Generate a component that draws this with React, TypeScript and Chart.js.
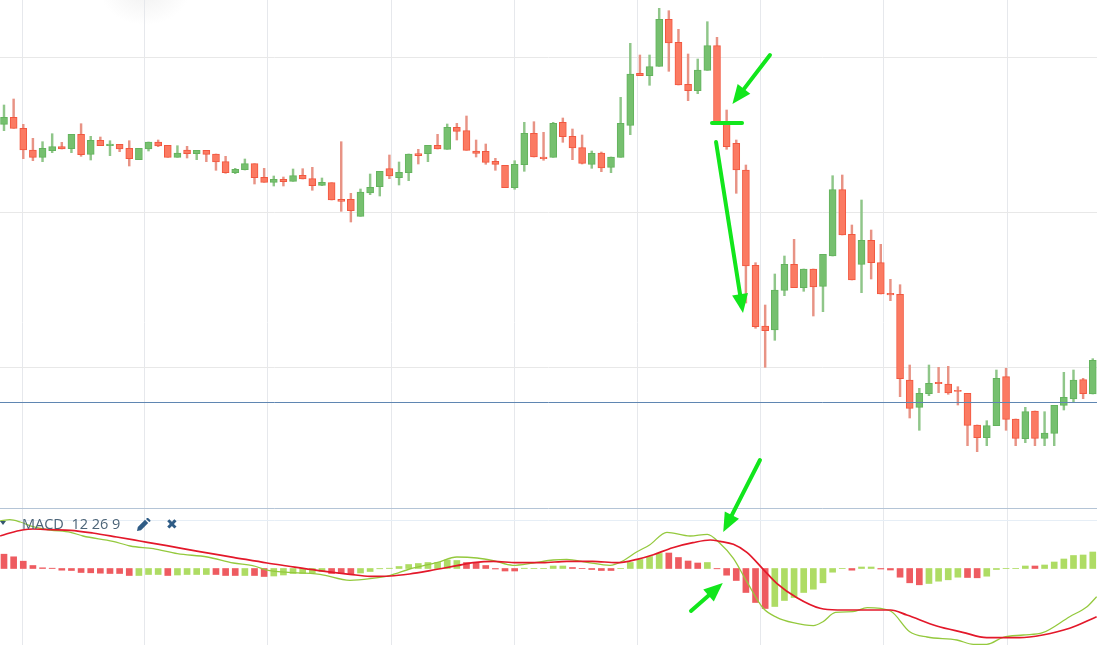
import React, { useEffect, useRef } from "react";
import { Chart, registerables } from "chart.js";

Chart.register(...registerables);

const opens = [52.07,52.77,51.67,49.5,48.77,49.43,49.83,49.63,51.07,49.07,50.47,49.93,50.07,49.67,48.53,49.6,50.3,49.97,48.77,49.5,49.13,49.47,49.1,48.33,47.23,47.53,48.13,46.77,46.27,46.57,46.37,46.97,46.63,45.97,46.23,44.57,44.57,42.87,45.2,45.83,47.63,46.73,47.23,49.13,49.13,49.97,49.57,51.77,51.43,49.4,49.37,48.37,47.97,45.73,48.03,51.17,48.8,48.77,52.27,50.87,49.73,48.07,49.2,47.77,48.77,51.97,57.17,56.93,57.87,62.57,60.27,56.07,55.43,57.47,59.93,52.17,50.17,47.5,37.97,31.9,31.5,35.47,38.07,35.73,37.6,35.87,38.9,45.53,41.07,38.07,40.47,38.23,35.17,35.07,26.5,23.77,25.13,26.27,26.1,25.47,25.17,22,20.73,21.93,26.83,22.6,20.63,23.4,20.67,21.17,23.97,24.6,26.53,25.1];
const closes = [52.77,51.67,49.5,48.77,49.67,49.83,49.6,51.07,49.03,50.47,49.93,50.1,49.6,48.63,49.67,50.3,49.9,48.77,49.2,49.13,49.47,49.07,48.3,47.23,47.57,48.13,46.73,46.27,46.57,46.33,46.93,46.6,45.93,46.27,44.5,44.37,43.43,45.3,45.77,47.37,46.9,47.27,49.1,48.93,49.97,49.6,51.77,51.37,49.47,49.17,48.27,48.07,45.73,48.07,51.17,48.8,48.63,52.17,50.83,49.7,48.17,49.17,47.7,48.8,52.17,57.1,56.93,57.83,62.57,60.2,56,55.43,57.5,59.93,52.33,49.83,47.5,37.9,31.83,31.43,35.5,38.07,35.73,37.6,35.8,39.07,45.53,41,36.5,40.47,38.23,35.1,35,26.63,23.67,25.17,26.17,26.13,25.2,25.37,21.97,20.73,21.93,26.67,22.57,20.67,23.33,20.67,21.2,23.97,24.77,26.5,25.13,28.47];
const highs = [54,54.6,52.07,50.67,50.33,51.13,50.27,51.07,52.13,50.87,50.8,50.43,50.07,50.43,49.67,50.3,50.5,49.97,49.93,49.87,49.47,49.47,49.1,48.87,47.67,48.6,48.13,47.67,46.9,46.8,47.6,47.63,47.77,46.7,46.23,50.33,45.17,45.6,47.1,47.37,49,48.3,49.1,49.57,49.97,51.07,52.1,52.17,52.9,50.5,50.1,48.67,47.97,48.43,52.27,52.33,51.27,52.27,52.7,51.6,51,49.4,49.3,48.8,54.77,60.17,59,59,63.67,63.43,61.57,59.1,58.6,62.33,60.77,53.5,50.5,48,38.23,34,37.1,38.9,40.57,37.6,37.6,39.07,46.93,47,42,44.5,41.5,40.07,36.57,36.03,28,25.67,28,27.77,27.87,25.83,25.17,22,22.43,27.5,27.67,22.6,23.77,23.4,23.33,23.97,27.27,27.5,26.67,28.63];
const lows = [51.43,51.67,48.63,48.43,48.33,49.23,49.6,49.23,48.87,48.5,49.93,48.93,49.33,47.9,48.53,49.4,49.83,48.77,48.77,48.7,48.53,48.33,47.47,47.17,47.13,47.5,46.1,46.27,45.9,45.9,46.37,46.6,45.47,45.93,44.5,43.37,42.3,42.87,45.03,44.9,46.63,46,46.43,48.1,48.33,49.6,49.57,50.5,49.47,48.8,48.07,47.47,45.73,45.57,47.37,48.8,48.47,48.77,50.27,48.53,48.1,47.67,47.33,47.23,48.77,51.03,56.93,55.97,57.87,57.37,56,54.43,55.13,57.47,52.33,49.57,45.17,34.2,31.67,27.77,30.47,34.93,35.73,35.37,32.9,33.33,38.9,41,36.5,35.23,36.6,35.1,34.43,24.83,22.7,21.47,24.93,25.23,25.07,24,19.93,19.33,19.93,21.93,21.47,19.93,20.23,19.93,19.93,19.93,23.5,24.3,24.63,25.1];

const macdHist = [1.43,1.17,0.73,0.3,0.07,0.03,-0.17,-0.2,-0.4,-0.43,-0.47,-0.5,-0.5,-0.7,-0.7,-0.6,-0.6,-0.7,-0.65,-0.6,-0.6,-0.6,-0.6,-0.7,-0.7,-0.7,-0.7,-0.8,-0.75,-0.65,-0.5,-0.5,-0.45,-0.3,-0.5,-0.5,-0.6,-0.45,-0.3,-0.03,0.03,0.2,0.4,0.5,0.6,0.6,0.85,0.8,0.6,0.6,0.3,-0.05,-0.25,-0.25,0.03,0.02,0.02,0.25,0.25,0.1,0.02,-0.1,-0.2,-0.2,0.02,0.6,0.9,1.2,1.5,1.55,1.1,0.75,0.55,0.6,-0.03,-0.67,-1.2,-2.4,-3.4,-4,-3.8,-3.2,-2.9,-2.4,-2.07,-1.43,-0.37,-0.02,-0.17,0.15,0.15,-0.05,-0.15,-0.87,-1.43,-1.63,-1.5,-1.27,-1.13,-0.87,-0.9,-0.93,-0.77,-0.1,0.02,0.02,0.25,0.25,0.35,0.65,0.95,1.3,1.35,1.65];
const macdHistRising = [
  "rrrrrrrrrrrrrr", "ggg", "r", "gggg", "rrr", "g", "rr", "gggggg", "rrr", "ggggggggggg", "rrrrrr", "ggggg", "rrrrr",
  "ggggg", "rrrr", "g", "rrrrrr", "gggggggg", "r", "gg", "rrrrr", "gggg", "rr", "ggggg", "r", "gggggg",
].join("").split("");

const signalIdx = [-0.4,0.6,1.9,3,4.8,6.9,9.2,11.7,14.1,16.9,20.3,23.8,27.3,29.4,32.5,35.9,38,40.1,42.1,44.2,47,48.7,50.8,53.2,55.9,58.4,61.1,63.6,65.7,67.4,69.4,71.5,73.3,74.3,75.7,77.1,78.8,80.2,82.3,84.7,86.5,92,93.7,96.8,99.5,102,105.4,107.8,110.6,113.4];
const signalVal = [3.25,3.55,3.85,3.95,3.88,3.82,3.55,3.15,2.75,2.28,1.68,1.12,0.55,0.25,-0.18,-0.58,-0.78,-0.75,-0.55,-0.22,0.28,0.58,0.72,0.58,0.58,0.72,0.72,0.58,0.92,1.38,2.08,2.58,2.85,2.72,2.42,1.62,-0.08,-1.48,-2.92,-3.98,-4.15,-4.15,-4.65,-5.75,-6.38,-6.92,-6.92,-6.65,-5.98,-4.82];
const macdIdx = [-0.4,0.6,1.7,3,4.8,6.9,8.2,11.3,13.1,15.5,18,21.1,23.8,25.8,27.6,32.8,35.9,38,40.1,42.1,45,47,49.1,50.8,52.8,54.9,57,58.4,60.5,62.9,64.2,65.7,67,68.8,71.2,73,74.3,75.7,77.1,78.8,80.2,81.9,84,85,86.3,88.1,89.6,92,94,95.8,98.9,100.6,102,103.7,105.8,107.8,110.6,112.4,113.4];
const macdVal = [4.75,4.88,4.65,4.18,3.85,3.62,3.25,2.72,2.25,1.98,1.48,1.15,0.55,0.28,-0.22,-0.58,-1.18,-1.02,-0.68,-0.05,0.62,1.15,1.05,0.78,0.32,0.55,0.85,0.92,0.62,0.32,0.75,1.68,2.35,3.62,3.25,3.42,2.52,1.02,-1.32,-3.98,-4.88,-5.42,-5.72,-5.32,-4.38,-4.32,-3.92,-4.25,-6.32,-6.85,-7.15,-7.58,-7.58,-6.88,-6.65,-6.42,-4.82,-3.82,-2.82];

const timeGridTicks = [1.87,14.63,27.4,40.17,53,65.8,78.55,91.3,104.1];
const priceGridTicks = [27.8,43.3,58.8];
const priceLine = 24.25;
const paneBorder = 13.65;
const paneTop = 12.45;

// [fromIndex, fromPrice, toIndex, toPrice, hasHead]
const arrows: [number, number, number, number, boolean][] = [
  [79.5, 59, 75.6, 54.1, true],
  [73.48, 52.2, 76.6, 52.2, false],
  [73.9, 50.3, 76.7, 33.2, true],
  [78.46, 18.5, 74.65, 11.3, true],
  [71.3, 3.4, 74.6, 6.2, true],
];

const X_MIN = -0.415;
const X_MAX = 113.44;

const arrowPlugin = {
  id: "arrowPlugin",
  afterDatasetsDraw(chart: any) {
    const { ctx, scales } = chart;
    ctx.save();
    ctx.strokeStyle = "#12e61c";
    ctx.fillStyle = "#12e61c";
    ctx.lineCap = "round";
    for (const [a, b, c, d, head] of arrows) {
      const x0 = scales.x.getPixelForValue(a);
      const y0 = scales.y.getPixelForValue(b);
      const x1 = scales.x.getPixelForValue(c);
      const y1 = scales.y.getPixelForValue(d);
      const ang = Math.atan2(y1 - y0, x1 - x0);
      const len = head ? 15 : 0;
      ctx.lineWidth = 4;
      ctx.beginPath();
      ctx.moveTo(x0, y0);
      ctx.lineTo(x1 - Math.cos(ang) * len, y1 - Math.sin(ang) * len);
      ctx.stroke();
      if (head) {
        const bx = x1 - Math.cos(ang) * 19;
        const by = y1 - Math.sin(ang) * 19;
        const w = 8;
        ctx.beginPath();
        ctx.moveTo(x1, y1);
        ctx.lineTo(bx - Math.sin(ang) * w, by + Math.cos(ang) * w);
        ctx.lineTo(bx + Math.sin(ang) * w, by - Math.cos(ang) * w);
        ctx.closePath();
        ctx.fill();
      }
    }
    ctx.restore();
  },
};

const flatLine = (value: number, color: string, order: number, width = 1) => ({
  type: "line" as const,
  yAxisID: "y",
  data: [{ x: X_MIN, y: value }, { x: X_MAX, y: value }],
  borderColor: color,
  borderWidth: width,
  pointRadius: 0,
  order,
});

export default function App() {
  const ref = useRef<HTMLCanvasElement | null>(null);

  useEffect(() => {
    if (!ref.current) return;
    const isUp = closes.map((c, i) => c >= opens[i]);
    const chart = new Chart(ref.current, {
      type: "bar",
      data: {
        datasets: [
          {
            label: "wicks",
            yAxisID: "y",
            data: highs.map((h, i) => ({ x: i, y: [lows[i], h] })),
            backgroundColor: isUp.map((u) => (u ? "#8fc689" : "#e89385")),
            barThickness: 1.8,
            grouped: false,
            order: 12,
          },
          {
            label: "bodies",
            yAxisID: "y",
            data: opens.map((o, i) => ({ x: i, y: [o, closes[i]] })),
            backgroundColor: isUp.map((u) => (u ? "#76c06f" : "#fb7a62")),
            borderColor: isUp.map((u) => (u ? "#63b35d" : "#f2573f")),
            borderWidth: 1,
            borderSkipped: false,
            barThickness: 7,
            grouped: false,
            order: 11,
          },
          {
            label: "histogram",
            yAxisID: "m",
            data: macdHist.map((v, i) => ({ x: i, y: v })),
            backgroundColor: macdHistRising.map((c) => (c === "g" ? "#aedc64" : "#ee5b60")),
            barThickness: 6,
            grouped: false,
            order: 10,
          },
          flatLine(paneTop, "#e6eef6", 9),
          flatLine(paneBorder, "#b4c4d6", 8),
          flatLine(priceLine, "#5f86b2", 7),
          {
            type: "line",
            label: "MACD",
            yAxisID: "m",
            data: macdIdx.map((x, i) => ({ x, y: macdVal[i] })),
            borderColor: "#94c93d",
            borderWidth: 1.3,
            pointRadius: 0,
            cubicInterpolationMode: "monotone",
            order: 2,
          },
          {
            type: "line",
            label: "Signal",
            yAxisID: "m",
            data: signalIdx.map((x, i) => ({ x, y: signalVal[i] })),
            borderColor: "#e3182a",
            borderWidth: 1.7,
            pointRadius: 0,
            cubicInterpolationMode: "monotone",
            order: 1,
          },
        ] as any,
      },
      options: {
        responsive: false,
        animation: false,
        layout: { padding: 0 },
        plugins: { legend: { display: false }, title: { display: false }, tooltip: { enabled: false } },
        scales: {
          x: {
            type: "linear",
            min: X_MIN,
            max: X_MAX,
            offset: false,
            afterBuildTicks: (s: any) => {
              s.ticks = timeGridTicks.map((value) => ({ value }));
            },
            ticks: { display: false },
            border: { display: false },
            grid: { color: "#e6e8ec", drawTicks: false, lineWidth: 1, offset: false },
          },
          y: {
            min: 0,
            max: 64.5,
            afterBuildTicks: (s: any) => {
              s.ticks = priceGridTicks.map((value) => ({ value }));
            },
            ticks: { display: false },
            border: { display: false },
            grid: { color: "#e8e8e8", drawTicks: false, lineWidth: 1 },
          },
          m: { min: -7.65, max: 56.85, display: false },
        },
      },
      plugins: [arrowPlugin],
    } as any);
    return () => chart.destroy();
  }, []);

  return (
    <div style={{ position: "fixed", left: 0, top: 0, width: 1097, height: 645, background: "#fff", overflow: "hidden" }}>
      <div style={{ position: "absolute", left: 100, top: -45, width: 90, height: 70, background: "radial-gradient(closest-side, #f1f1f1, #ffffff)" }} />
      <canvas ref={ref} width={1097} height={645} style={{ position: "absolute", left: 0, top: 0, display: "block", width: 1097, height: 645 }} />
      <div style={{ position: "absolute", left: 0, top: 521, width: 0, height: 0, borderLeft: "3.5px solid transparent", borderRight: "3.5px solid transparent", borderTop: "4px solid #34566f" }} />
      <span style={{ position: "absolute", left: 22, top: 514, fontFamily: "'Open Sans', sans-serif", fontSize: 14.5, lineHeight: "20px", color: "#4c6478", whiteSpace: "pre" }}>MACD  12 26 9</span>
      <svg style={{ position: "absolute", left: 137, top: 518 }} width={14} height={13} viewBox="0 0 14 13">
        <path d="M0 13 L0.8 9 L8 1.8 L11.2 5 L4 12.2 Z M9 0.9 L10 0 Q10.7 -0.3 11.4 0.3 L13.2 2.1 Q13.7 2.8 13.2 3.4 L12.2 4.1 Z" fill="#2f5c86" />
      </svg>
      <span style={{ position: "absolute", left: 166, top: 514, fontFamily: "'DejaVu Sans', sans-serif", fontSize: 14, lineHeight: "20px", color: "#2f5c86", whiteSpace: "pre" }}>{"\u2716"}</span>
    </div>
  );
}
